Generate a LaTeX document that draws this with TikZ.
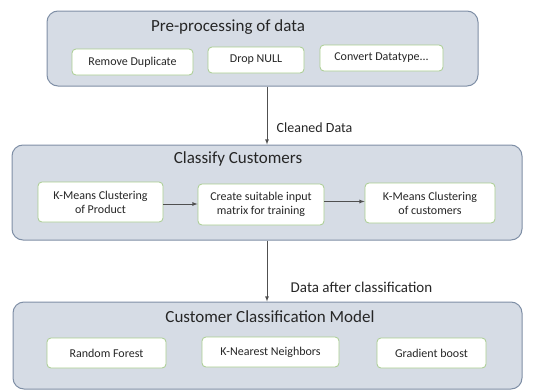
\documentclass[tikz,border=0pt]{standalone}
\usepackage{fontspec}
\setmainfont{Carlito}
\definecolor{panelfill}{HTML}{D6DCE5}
\definecolor{panelline}{HTML}{7F8FA6}
\definecolor{itemline}{HTML}{A9CD8F}
\definecolor{textgray}{HTML}{262626}
\definecolor{arrowgray}{HTML}{505050}
\begin{document}
\begin{tikzpicture}[
	x=1pt, y=-1pt,
	panel/.style={rectangle, rounded corners=11pt, draw=panelline, fill=panelfill, line width=1pt, inner sep=0pt},
	item/.style={rectangle, rounded corners=4pt, draw=itemline, fill=white, line width=0.8pt, align=center, inner sep=2pt, text=textgray, font=\fontsize{12}{14}\selectfont},
	heading/.style={text=textgray, font=\fontsize{17}{20}\selectfont},
	flow/.style={draw=arrowgray, line width=0.8pt, -latex},
	flowlabel/.style={text=textgray, font=\fontsize{14}{16}\selectfont, right}
]
\useasboundingbox (0,0) rectangle (552,391);
\node[panel, minimum width=431pt, minimum height=75pt] (prep) at (262.5,48.5) {};
\node[heading] (prephead) at (228,27) {Pre-processing of data};
\node[item, minimum width=121pt, minimum height=26pt] (dup) at (132.5,62) {Remove Duplicate};
\node[item, minimum width=96pt, minimum height=26pt] (null) at (256,60) {Drop NULL};
\node[item, minimum width=123pt, minimum height=26pt] (conv) at (381.5,58) {Convert Datatype...};

\node[panel, minimum width=510pt, minimum height=95pt] (classify) at (267,192.5) {};
\node[heading] (classhead) at (238,159) {Classify Customers};
\node[item, minimum width=125pt, minimum height=40pt] (kprod) at (100.5,202) {K-Means Clustering\\of Product};
\node[item, minimum width=126pt, minimum height=41pt] (matrix) at (261,204.5) {Create suitable input\\matrix for training};
\node[item, minimum width=130pt, minimum height=40pt] (kcust) at (430,203) {K-Means Clustering\\of customers};

\node[panel, minimum width=509pt, minimum height=87pt] (model) at (267.5,345.5) {};
\node[heading] (modelhead) at (270,317) {Customer Classification Model};
\node[item, minimum width=119pt, minimum height=30pt] (rf) at (106.5,353) {Random Forest};
\node[item, minimum width=137pt, minimum height=30pt] (knn) at (270.5,352) {K-Nearest Neighbors};
\node[item, minimum width=109pt, minimum height=30pt] (gb) at (431.5,353) {Gradient boost};

\draw[flow] (classify.north |- prep.south) -- node[flowlabel, pos=0.71, xshift=6pt] {Cleaned Data} (classify.north);
\draw[flow] ([yshift=-2pt]kprod.east) -- ([yshift=-2pt]kprod.east -| matrix.west);
\draw[flow] ([yshift=3pt]matrix.east) -- ([yshift=3pt]matrix.east -| kcust.west);
\draw[flow] (classify.south) -- node[flowlabel, pos=0.76, xshift=20pt, font=\fontsize{15}{17}\selectfont] {Data after classification} (model.north -| classify.south);
\end{tikzpicture}
\end{document}
